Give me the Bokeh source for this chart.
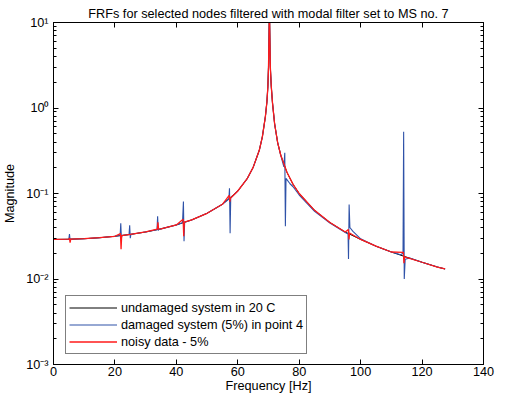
from bokeh.plotting import figure
from bokeh.models import Legend, LegendItem, LinearAxis, LogAxis, FixedTicker, Range1d
from bokeh.embed import file_html
from bokeh.resources import INLINE

title_text = "FRFs for selected nodes filtered with modal filter set to MS no. 7"
x_label = "Frequency [Hz]"
y_label = "Magnitude"
series_names = ["undamaged system in 20 C", "damaged system (5%) in point 4", "noisy data - 5%"]

x_ticks = [0, 20, 40, 60, 80, 100, 120, 140]
y_ticks = [1e-3, 1e-2, 1e-1, 1e0, 1e1]
y_tick_labels = ["10\u207b\u00b3", "10\u207b\u00b2", "10\u207b\u00b9", "10\u2070", "10\u00b9"]

# undamaged system (black)
f_undamaged = [0, 5, 10, 15, 20, 25, 30, 35, 40, 45, 50, 55, 60, 63, 65, 67, 68, 69, 69.5,
               69.8, 70.0, 70.3, 70.6, 70.9, 71.3, 72, 73, 74, 76, 78, 80, 85, 90, 95, 100,
               105, 110, 115, 120, 125, 127.5]
m_undamaged = [0.0290, 0.0292, 0.0296, 0.0304, 0.0316, 0.0332, 0.0355, 0.0386, 0.0429, 0.0491,
               0.0587, 0.0748, 0.107, 0.148, 0.202, 0.32, 0.46, 0.80, 1.2,
               1.8, 3.0, 14.0, 3.0, 1.8, 1.15, 0.65, 0.39, 0.28, 0.177, 0.128, 0.100, 0.0635,
               0.0458, 0.0354, 0.0290, 0.0242, 0.0207, 0.0180, 0.0157, 0.0138, 0.0131]

# damaged system (blue)
f_damaged = [0, 5.0, 5.2, 5.4, 5.6, 10, 15, 20, 21.7, 21.9, 22.1, 22.3, 24.6, 24.8, 25.0, 25.2,
             30, 33.7, 33.9, 34.1, 34.3, 35, 40, 42.0, 42.3, 42.5, 42.7, 45, 50, 55, 57.1,
             57.3, 57.5, 57.7, 60, 63, 65, 67, 68, 69, 69.5, 69.8, 70.0, 70.3, 70.6, 70.9,
             71.3, 72, 73, 74, 75.0, 75.3, 75.5, 75.7, 77, 78, 80, 85, 90, 95, 95.9, 96.05,
             96.25, 96.5, 97.5, 100, 105, 110, 113.0, 113.8, 114.0, 114.2, 114.5, 116, 120,
             125, 127.5]
m_damaged = [0.0290, 0.0292, 0.0335, 0.0286, 0.0292, 0.0296, 0.0304, 0.0316, 0.0322, 0.0448,
             0.0300, 0.0322, 0.0331, 0.0424, 0.0300, 0.0333,
             0.0355, 0.0377, 0.0540, 0.0370, 0.0380, 0.0386, 0.0429, 0.0455, 0.0807, 0.0277,
             0.0462, 0.0491, 0.0587, 0.0748, 0.0860,
             0.115, 0.0343, 0.0890, 0.107, 0.148, 0.202, 0.32, 0.46, 0.80, 1.2, 1.8, 3.0,
             14.0, 3.0, 1.8,
             1.15, 0.65, 0.39, 0.28, 0.205, 0.300, 0.0413, 0.150, 0.130, 0.120, 0.096, 0.062,
             0.0450, 0.0350, 0.0335, 0.0171,
             0.0745, 0.0400, 0.0360, 0.0295, 0.0242, 0.0207, 0.0192, 0.0200, 0.526, 0.0100,
             0.0170, 0.0176, 0.0157,
             0.0138, 0.0131]

# noisy data (red)
f_noisy = [0, 5.0, 5.2, 5.4, 5.6, 10, 15, 20, 21.8, 22.0, 22.2, 25, 30, 33.8, 34.0, 34.2, 35,
           40, 42.2, 42.4, 42.6, 45, 50, 55, 57.2, 57.4, 57.6, 60, 63, 65, 67, 68, 69, 69.5,
           69.8, 70.0, 70.3, 70.6, 70.9, 71.3, 72, 73, 74, 76, 78, 80, 85, 90, 95, 96.0,
           96.2, 96.4, 100, 105, 110, 113.9, 114.1, 114.3, 120, 125, 127.5]
m_noisy = [0.0290, 0.0292, 0.0300, 0.0266, 0.0292, 0.0296, 0.0304, 0.0316, 0.0340, 0.0223,
           0.0322, 0.0332, 0.0355, 0.0382, 0.0460, 0.0384, 0.0386,
           0.0429, 0.0500, 0.0316, 0.0462, 0.0491, 0.0587, 0.0748, 0.0950, 0.0800, 0.0880,
           0.107, 0.148, 0.202, 0.32, 0.46, 0.80, 1.2,
           1.8, 3.0, 14.0, 3.0, 1.8, 1.15, 0.65, 0.39, 0.28, 0.177, 0.128, 0.100, 0.0635,
           0.0458, 0.0354, 0.0380,
           0.0290, 0.0345, 0.0290, 0.0242, 0.0207, 0.0205, 0.0153, 0.0182, 0.0157, 0.0138,
           0.0131]

FONT = "Liberation Sans"
FS = "12.7px"

p = figure(frame_width=430, frame_height=342, output_backend="svg", toolbar_location=None,
           y_axis_type="log", x_range=Range1d(0, 140), y_range=Range1d(1e-3, 1e1),
           min_border_left=52, min_border_right=13, min_border_top=22, min_border_bottom=32,
           title=title_text)
p.background_fill_color = "white"
p.border_fill_color = "white"
p.outline_line_color = "black"
p.outline_line_width = 1
p.grid.visible = False

p.title.align = "center"
p.title.text_font = FONT
p.title.text_font_size = FS
p.title.text_font_style = "normal"
p.title.text_color = "black"
p.title.standoff = 3

minor_y = [k * 10.0 ** e for e in range(-3, 1) for k in range(2, 10)]

def style_axis(ax):
    ax.axis_line_color = "black"
    ax.axis_line_width = 1
    ax.major_tick_line_color = "black"
    ax.minor_tick_line_color = "black"
    ax.major_tick_in = 5
    ax.major_tick_out = 0
    ax.minor_tick_in = 3
    ax.minor_tick_out = 0
    ax.major_label_text_font = FONT
    ax.major_label_text_font_size = FS
    ax.major_label_text_color = "black"
    ax.axis_label_text_font = FONT
    ax.axis_label_text_font_size = FS
    ax.axis_label_text_font_style = "normal"
    ax.axis_label_text_color = "black"

xa = p.xaxis[0]
style_axis(xa)
xa.ticker = FixedTicker(ticks=x_ticks)
xa.axis_label = x_label
xa.major_label_standoff = 2
xa.axis_label_standoff = 0

ya = p.yaxis[0]
style_axis(ya)
ya.ticker = FixedTicker(ticks=y_ticks, minor_ticks=minor_y)
ya.major_label_overrides = {t: s for t, s in zip(y_ticks, y_tick_labels)}
ya.axis_label = y_label
ya.major_label_standoff = 5
ya.axis_label_standoff = 6

top = LinearAxis(ticker=FixedTicker(ticks=x_ticks))
style_axis(top)
top.major_label_text_font_size = "1px"
top.major_label_text_alpha = 0
top.major_label_standoff = 0
p.add_layout(top, "above")

right = LogAxis(ticker=FixedTicker(ticks=y_ticks, minor_ticks=minor_y))
style_axis(right)
right.major_label_text_font_size = "1px"
right.major_label_text_alpha = 0
right.major_label_standoff = 0
p.add_layout(right, "right")

r_black = p.line(f_undamaged, m_undamaged, line_color="black", line_width=1)
r_blue = p.line(f_damaged, m_damaged, line_color="#2f52a8", line_width=1.1)
r_red = p.line(f_noisy, m_noisy, line_color="#ff1a1a", line_width=1.3)

legend = Legend(items=[LegendItem(label=series_names[0], renderers=[r_black]),
                       LegendItem(label=series_names[1], renderers=[r_blue]),
                       LegendItem(label=series_names[2], renderers=[r_red])],
                location=(12, 10))
legend.border_line_color = "black"
legend.border_line_width = 1.3
legend.background_fill_color = "white"
legend.background_fill_alpha = 1
legend.padding = 3
legend.spacing = 0
legend.margin = 0
legend.label_height = 17
legend.glyph_height = 17
legend.glyph_width = 48
legend.label_standoff = 4
legend.label_text_font = FONT
legend.label_text_font_size = FS
legend.label_text_color = "black"
p.add_layout(legend, "center")

open("out.html", "w").write(file_html(p, INLINE))
